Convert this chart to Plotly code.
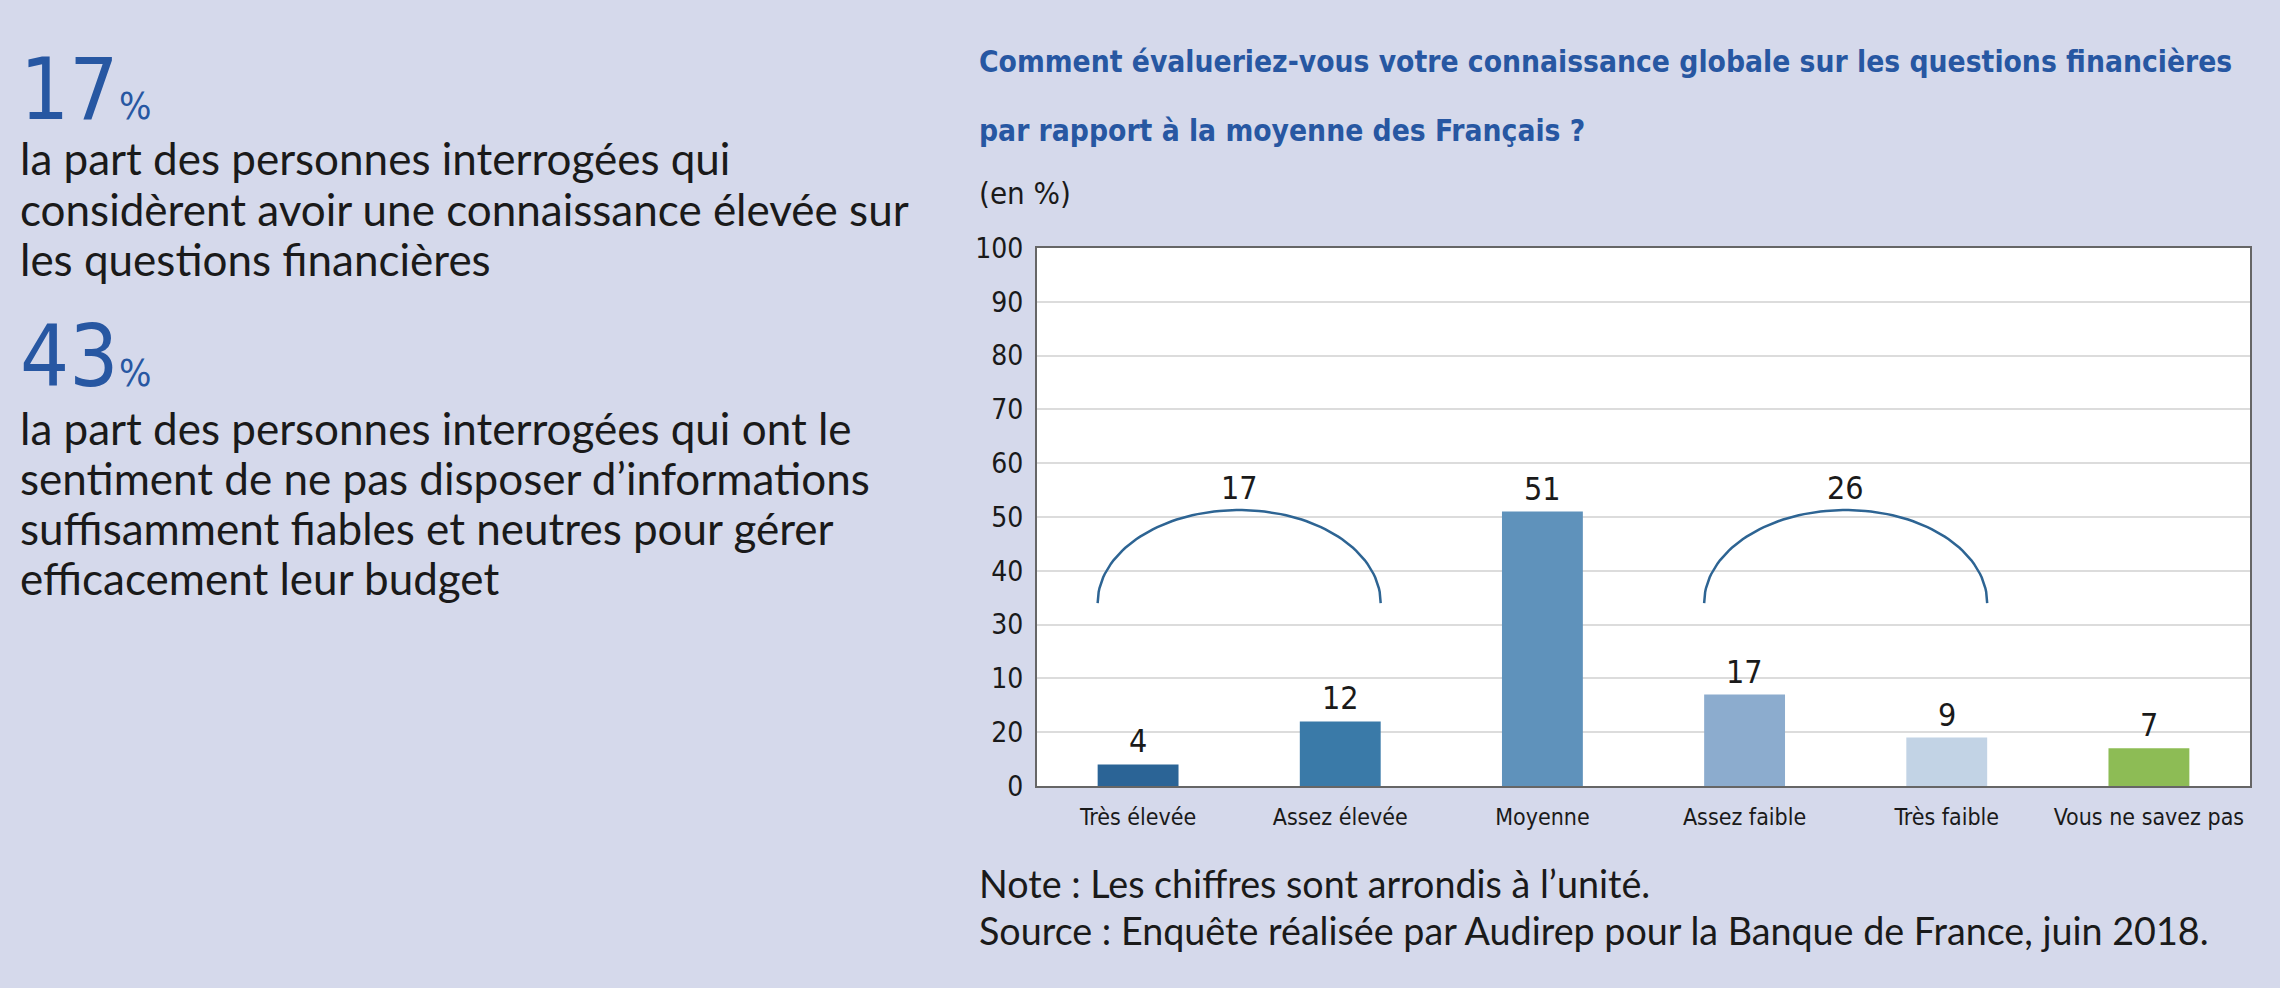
import numpy as np
import plotly.graph_objects as go

# data
categories = ["Très élevée", "Assez élevée", "Moyenne", "Assez faible", "Très faible", "Vous ne savez pas"]
values = [4, 12, 51, 17, 9, 7]
bar_colors = ["#2b6496", "#3a7aa8", "#5f92bb", "#8cacce", "#c2d3e5", "#8dbc55"]
y_tick_vals = [0, 10, 20, 30, 40, 50, 60, 70, 80, 90, 100]
y_tick_text = ["0", "20", "10", "30", "40", "50", "60", "70", "80", "90", "100"]
# groups joined by an arc: first bar, last bar, total shown
arc_groups = [(0, 1, "17"), (3, 4, "26")]

key_figures = ["17", "43"]
key_texts = [
    ["la part des personnes interrogées qui",
     "considèrent avoir une connaissance élevée sur",
     "les questions financières"],
    ["la part des personnes interrogées qui ont le",
     "sentiment de ne pas disposer d’informations",
     "suffisamment fiables et neutres pour gérer",
     "efficacement leur budget"],
]

title_lines = ["Comment évalueriez-vous votre connaissance globale sur les questions financières",
               "par rapport à la moyenne des Français ?"]
unit_text = "(en %)"
note_lines = ["Note : Les chiffres sont arrondis à l’unité.",
              "Source : Enquête réalisée par Audirep pour la Banque de France, juin 2018."]

W, H = 2280, 988
L, R, T, B = 1037, 30, 248, 202
PW, PH = W - L - R, H - T - B
BG = "#d5d9eb"
BLUE = "#2757a2"
NARROW = "DejaVu Sans Condensed, sans-serif"
BODY = "Lato, Noto Sans, sans-serif"
BAR_W = 0.4


def px(xp):
    return (xp - L) / PW


def py(yp):
    return (H - B - yp) / PH


fig = go.Figure()
fig.add_trace(go.Bar(
    x=list(range(len(categories))), y=values, width=BAR_W,
    marker=dict(color=bar_colors, line=dict(width=0)),
    hoverinfo="skip", showlegend=False,
))

# arcs over grouped bars
arc_base, arc_h = 34, 17.3
t = np.linspace(0, np.pi, 80)
for i0, i1, lab in arc_groups:
    x0, x1 = i0 - BAR_W / 2, i1 + BAR_W / 2
    cx, a = (x0 + x1) / 2, (x1 - x0) / 2
    fig.add_trace(go.Scatter(
        x=cx + a * np.cos(t), y=arc_base + arc_h * np.sin(t), mode="lines",
        line=dict(color="#2d6493", width=2.5), hoverinfo="skip", showlegend=False,
    ))
    fig.add_annotation(x=cx, y=arc_base + arc_h, text=lab, showarrow=False,
                       yanchor="bottom", yshift=1,
                       font=dict(family=NARROW, size=32, color="#1a1a1a"))

# value labels
for i, v in enumerate(values):
    fig.add_annotation(x=i, y=v, text=str(v), showarrow=False, yanchor="bottom", yshift=2,
                       font=dict(family=NARROW, size=32, color="#1a1a1a"))

# left panel: key figures
fig_base = [120, 387]
line_base = [[175, 226, 276], [445, 495, 545, 595]]
for k, num in enumerate(key_figures):
    fig.add_annotation(xref="paper", yref="paper", x=px(18), y=py(fig_base[k] - 0.36 * 86),
                       text=num, showarrow=False, xanchor="left", yanchor="middle",
                       font=dict(family=NARROW, size=86, color=BLUE))
    fig.add_annotation(xref="paper", yref="paper", x=px(117), y=py(fig_base[k] - 0.36 * 38),
                       text="%", showarrow=False, xanchor="left", yanchor="middle",
                       font=dict(family=NARROW, size=38, color=BLUE))
    for j, line in enumerate(key_texts[k]):
        fig.add_annotation(xref="paper", yref="paper", x=px(18), y=py(line_base[k][j] - 0.387 * 44),
                           text=line, showarrow=False, xanchor="left", yanchor="middle",
                           font=dict(family=BODY, size=44, color="#1a1a1a"))

# title, unit, notes
for j, line in enumerate(title_lines):
    fig.add_annotation(xref="paper", yref="paper", x=px(977), y=py([72, 141][j] - 0.36 * 29.7),
                       text="<b>" + line + "</b>", showarrow=False, xanchor="left", yanchor="middle",
                       font=dict(family=NARROW, size=29.7, color=BLUE))
fig.add_annotation(xref="paper", yref="paper", x=px(977), y=py(204 - 0.36 * 31),
                   text=unit_text, showarrow=False, xanchor="left", yanchor="middle",
                   font=dict(family=NARROW, size=31, color="#1a1a1a"))
for j, line in enumerate(note_lines):
    fig.add_annotation(xref="paper", yref="paper", x=px(977), y=py([898, 945][j] - 0.387 * 37.7),
                       text=line, showarrow=False, xanchor="left", yanchor="middle",
                       font=dict(family=BODY, size=37.7, color="#1a1a1a"))

fig.update_layout(
    width=W, height=H, autosize=False,
    margin=dict(l=L, r=R, t=T, b=B),
    paper_bgcolor=BG, plot_bgcolor="white",
    bargap=0.6,
)
fig.update_xaxes(
    range=[-0.5, len(categories) - 0.5], tickvals=list(range(len(categories))), ticktext=categories,
    showgrid=False, zeroline=False, showline=True, mirror=True, linecolor="#666666", linewidth=2,
    ticks="", ticklabelstandoff=9, tickfont=dict(family=NARROW, size=23, color="#1a1a1a"),
)
fig.update_yaxes(
    range=[0, 100], tickvals=y_tick_vals, ticktext=y_tick_text,
    showgrid=True, gridcolor="#dcdcdc", gridwidth=2, zeroline=False,
    showline=True, mirror=True, linecolor="#666666", linewidth=2,
    ticks="", ticklabelstandoff=6, tickfont=dict(family=NARROW, size=28, color="#1a1a1a"),
)

fig.write_html("out.html", config={"displayModeBar": False},
               post_script="document.body.style.margin='0';")
